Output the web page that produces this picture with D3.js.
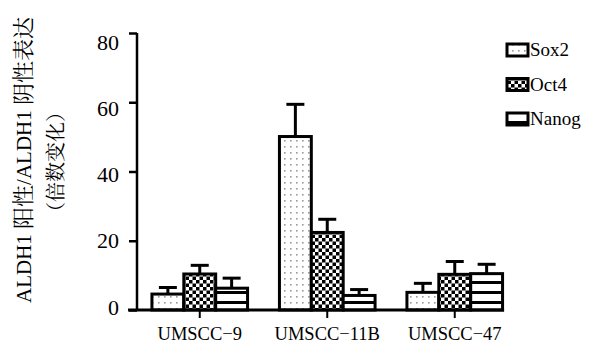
<!DOCTYPE html>
<html><head><meta charset="utf-8">
<script src="https://cdn.jsdelivr.net/npm/d3@7"></script>
<style>body{margin:0;background:#fff}svg{display:block}
.serif{font-family:"Liberation Serif","Times New Roman",Times,"DejaVu Serif","Noto Serif",serif}
.cjk{font-family:"Noto Serif CJK SC","Noto Sans CJK SC",sans-serif}
</style>
</head><body>
<svg id="c" width="601" height="344"></svg>
<script>
const categories = ["UMSCC\u22129", "UMSCC\u221211B", "UMSCC\u221247"];
const seriesNames = ["Sox2", "Oct4", "Nanog"];
const sox2 = [4.6, 50.1, 5.1];
const sox2Sd = [1.9, 9.3, 2.6];
const oct4 = [10.4, 22.4, 10.3];
const oct4Sd = [2.5, 3.8, 3.7];
const nanog = [6.3, 4.2, 10.5];
const nanogSd = [2.9, 1.7, 2.7];
const yTicks = [0, 20, 40, 60, 80];
const titleLine1 = ["ALDH1 ", "阳性", "/ALDH1 ", "阴性表达"];
const titleLine2 = "（倍数变化）";

const values = [sox2, oct4, nanog];
const sds = [sox2Sd, oct4Sd, nanogSd];

const svg = d3.select("#c");

// patterns
const defs = svg.append("defs");
const p1 = defs.append("pattern").attr("id","pSox2").attr("patternUnits","userSpaceOnUse").attr("width",6).attr("height",6);
p1.append("rect").attr("width",6).attr("height",6).attr("fill","#fff");
p1.append("rect").attr("x",2).attr("y",2).attr("width",1.6).attr("height",1.6).attr("fill","#9a9a9a");
const p2 = defs.append("pattern").attr("id","pOct4").attr("patternUnits","userSpaceOnUse").attr("width",7).attr("height",7);
p2.append("rect").attr("width",7).attr("height",7).attr("fill","#fff");
p2.append("rect").attr("x",0).attr("y",0).attr("width",3.5).attr("height",3.5).attr("fill","#000");
p2.append("rect").attr("x",3.5).attr("y",3.5).attr("width",3.5).attr("height",3.5).attr("fill","#000");
const p3 = defs.append("pattern").attr("id","pNanog").attr("patternUnits","userSpaceOnUse").attr("width",8).attr("height",10).attr("y",1);
p3.append("rect").attr("width",8).attr("height",10).attr("fill","#fff");
p3.append("rect").attr("x",0).attr("y",0).attr("width",8).attr("height",3).attr("fill","#000");
const fills = ["url(#pSox2)","url(#pOct4)","url(#pNanog)"];

const y = d3.scaleLinear().domain([0, 80]).range([310, 33]);
const yLab = d3.scaleLinear().domain([0, 80]).range([307, 42]);
const x0 = d3.scaleBand().domain(categories).range([136, 518.5]).paddingInner(0.25).paddingOuter(0.125);
const x1 = d3.scaleBand().domain(seriesNames).range([0, x0.bandwidth()]);

// bars
categories.forEach((c, ci) => {
  seriesNames.forEach((s, si) => {
    const v = values[si][ci], sd = sds[si][ci];
    const bx = x0(c) + x1(s), bw = x1.bandwidth();
    const cx = bx + bw / 2;
    svg.append("line").attr("x1",cx).attr("x2",cx).attr("y1",y(v)).attr("y2",y(v+sd))
      .attr("stroke","#000").attr("stroke-width",3);
    svg.append("line").attr("x1",cx-9).attr("x2",cx+9).attr("y1",y(v+sd)).attr("y2",y(v+sd))
      .attr("stroke","#000").attr("stroke-width",3);
    svg.append("rect").attr("x",bx).attr("y",y(v)).attr("width",bw).attr("height",y(0)-y(v))
      .attr("fill",fills[si]).attr("stroke","#000").attr("stroke-width",3);
  });
});

// y axis
const yAxis = svg.append("g").attr("transform","translate(137,0)")
  .call(d3.axisLeft(y).tickValues(yTicks).tickSize(8).tickFormat(""));
yAxis.selectAll("path,line").attr("stroke","#000").attr("stroke-width",2.5);
yAxis.select(".domain").attr("d", `M0,${y(80)}V${y(0)}`);
const yLabels = svg.append("g").attr("transform","translate(137,0)")
  .call(d3.axisLeft(yLab).tickValues(yTicks).tickSize(0).tickPadding(18));
yLabels.attr("font-family", null);
yLabels.select(".domain").remove();
yLabels.selectAll("text").attr("class","serif").attr("font-size",22).attr("fill","#000");

// x axis
const last = categories[categories.length-1];
svg.append("line").attr("x1",128).attr("x2",x0(last)+x0.bandwidth()+1.5).attr("y1",y(0)).attr("y2",y(0))
  .attr("stroke","#000").attr("stroke-width",3);
const xAxis = svg.append("g").attr("transform",`translate(0,${y(0)})`)
  .call(d3.axisBottom(x0).tickSize(8).tickPadding(9));
xAxis.attr("font-family", null);
xAxis.select(".domain").remove();
xAxis.selectAll("line").attr("stroke","#000").attr("stroke-width",2);
xAxis.selectAll("text").attr("class","serif").attr("font-size",18.5).attr("fill","#000");

// y title
const t1 = svg.append("text").attr("transform","translate(31,160) rotate(-90)")
  .attr("text-anchor","middle").attr("fill","#000");
titleLine1.forEach((t, i) => {
  t1.append("tspan").text(t).attr("class", i % 2 === 0 ? "serif" : "cjk")
    .attr("font-size", i % 2 === 0 ? 21 : 22);
});
svg.append("text").attr("transform","translate(63,162) rotate(-90)")
  .attr("text-anchor","middle").attr("class","cjk").attr("font-size",20).attr("fill","#000")
  .text(titleLine2);

// legend
const leg = svg.append("g");
seriesNames.forEach((s, i) => {
  const ly = 50 + i * 34.5;
  leg.append("rect").attr("x",507).attr("y",ly-6).attr("width",21).attr("height",12)
    .attr("fill",fills[i]).attr("stroke","#000").attr("stroke-width",3);
  leg.append("text").attr("x",530).attr("y",ly+6).attr("class","serif").attr("font-size",19)
    .attr("fill","#000").text(s);
});
</script>
</body></html>
